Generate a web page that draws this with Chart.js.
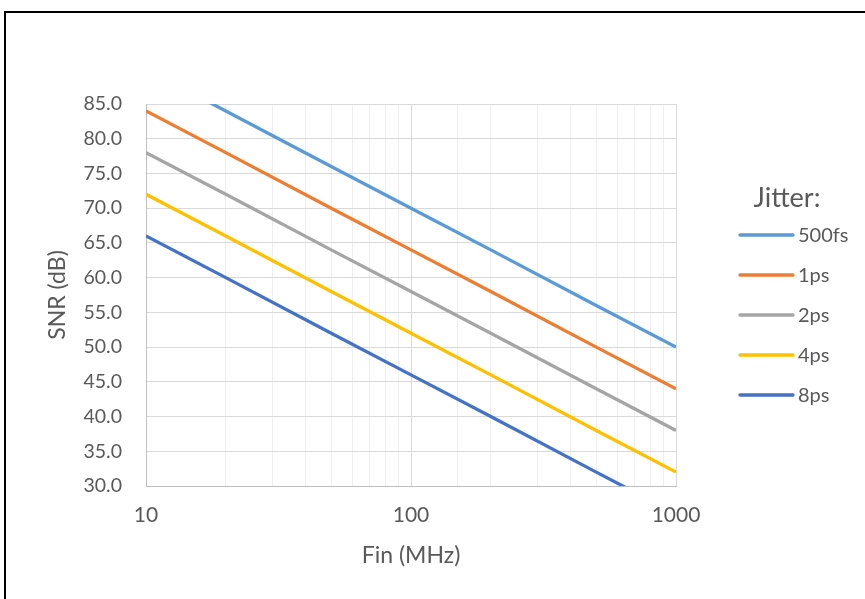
<!DOCTYPE html>
<html>
<head>
<meta charset="utf-8">
<script src="https://cdn.jsdelivr.net/npm/chart.js@4.4.1/dist/chart.umd.min.js"></script>
<style>
  html, body { margin: 0; padding: 0; background: #fff; overflow: hidden; }
  #wrap { position: relative; width: 865px; height: 599px; }
  #frame { position: absolute; left: 4px; top: 11px; width: 1000px; height: 1000px;
           border-left: 2px solid #000; border-top: 2px solid #000; box-sizing: border-box; pointer-events: none; }
  canvas { position: absolute; left: 0; top: 0; }
</style>
</head>
<body>
<div id="wrap">
  <canvas id="c" width="865" height="599"></canvas>
  <div id="frame"></div>
</div>
<script>
// ---- data ----
const freqMHz   = [10, 20, 50, 100, 200, 500, 1000];
const snr500fs  = [90.0, 84.0, 76.0, 70.0, 64.0, 56.0, 50.0];
const snr1ps    = [84.0, 78.0, 70.0, 64.0, 58.0, 50.0, 44.0];
const snr2ps    = [78.0, 72.0, 64.0, 58.0, 52.0, 44.0, 38.0];
const snr4ps    = [72.0, 66.0, 58.0, 52.0, 46.0, 38.0, 32.0];
const snr8ps    = [66.0, 60.0, 52.0, 46.0, 40.0, 32.0, 26.0];
const seriesNames = ['500fs', '1ps', '2ps', '4ps', '8ps'];
const xTickLabels = [10, 100, 1000];
const yMin = 30, yMax = 85, yStep = 5;
const legendTitle = 'Jitter:';
const xTitle = 'Fin (MHz)';
const yTitle = 'SNR (dB)';

const colors = ['#5B9BD5', '#ED7D31', '#A5A5A5', '#FFC000', '#4472C4'];
const allSeries = [snr500fs, snr1ps, snr2ps, snr4ps, snr8ps];
const FONT = 'Lato, "Open Sans", sans-serif';
const TXT = '#595959';

const datasets = allSeries.map((vals, i) => ({
  label: seriesNames[i],
  data: freqMHz.map((f, j) => ({ x: f, y: vals[j] })),
  borderColor: colors[i],
  backgroundColor: colors[i],
  borderWidth: 3.3,
  pointRadius: 0,
  pointHoverRadius: 0,
  tension: 0,
  fill: false
}));

const isPow10 = v => Math.abs(Math.log10(v) - Math.round(Math.log10(v))) < 1e-9;

const customLegend = {
  id: 'customLegend',
  afterDraw(chart) {
    const ctx = chart.ctx;
    const ca = chart.chartArea;
    const x0 = ca.right + 64;
    const lineLen = 53;
    const gap = 5;
    const step = 40;
    const midY = (ca.top + ca.bottom) / 2;
    const firstY = midY - 60;
    ctx.save();
    ctx.fillStyle = TXT;
    ctx.textBaseline = 'middle';
    ctx.textAlign = 'center';
    ctx.font = '27px ' + FONT;
    ctx.fillText(legendTitle, x0 + 47, firstY - 37);
    ctx.font = '20px ' + FONT;
    ctx.textAlign = 'left';
    chart.data.datasets.forEach((ds, i) => {
      const y = firstY + i * step;
      ctx.strokeStyle = ds.borderColor;
      ctx.lineWidth = 3.3;
      ctx.lineCap = 'round';
      ctx.beginPath();
      ctx.moveTo(x0, y);
      ctx.lineTo(x0 + lineLen, y);
      ctx.stroke();
      ctx.fillStyle = TXT;
      ctx.fillText(ds.label, x0 + lineLen + gap, y + 1);
    });
    ctx.restore();
  }
};

const whiteBg = {
  id: 'whiteBg',
  beforeDraw(chart) {
    const ctx = chart.ctx;
    ctx.save();
    ctx.fillStyle = '#fff';
    ctx.fillRect(0, 0, chart.width, chart.height);
    ctx.restore();
  }
};

new Chart(document.getElementById('c'), {
  type: 'line',
  data: { datasets },
  plugins: [whiteBg, customLegend],
  options: {
    responsive: false,
    animation: false,
    layout: { padding: { left: 0, top: 104, right: 189, bottom: 0 } },
    plugins: { legend: { display: false }, tooltip: { enabled: false } },
    scales: {
      x: {
        type: 'logarithmic',
        min: 10,
        max: 1000,
        afterFit(scale) { scale.height = 599 - 486; },
        afterBuildTicks(scale) {
          scale.ticks = scale.ticks.filter(t => t.value >= 10 && t.value <= 1000);
        },
        ticks: {
          autoSkip: false,
          maxRotation: 0,
          padding: 17,
          color: TXT,
          font: { family: FONT, size: 21 },
          callback: (v) => (isPow10(v) && xTickLabels.includes(Math.round(v))) ? String(Math.round(v)) : ''
        },
        grid: {
          drawTicks: false,
          color: (c) => (c.tick && isPow10(c.tick.value)) ? '#d9d9d9' : '#efefef',
          lineWidth: 1
        },
        border: { display: true, color: '#bfbfbf', width: 1 },
        title: {
          display: true, text: xTitle, color: TXT,
          font: { family: FONT, size: 23 },
          padding: { top: 0, bottom: 30 }
        }
      },
      y: {
        type: 'linear',
        min: yMin,
        max: yMax,
        afterFit(scale) { scale.width = 146; },
        ticks: {
          stepSize: yStep,
          padding: 24,
          color: TXT,
          font: { family: FONT, size: 19.5 },
          callback: (v) => Number(v).toFixed(1)
        },
        grid: { drawTicks: false, color: '#d9d9d9', lineWidth: 1 },
        border: { display: true, color: '#bfbfbf', width: 1 },
        title: {
          display: true, text: yTitle, color: TXT,
          font: { family: FONT, size: 23 },
          padding: { top: 44, bottom: 0 }
        }
      }
    }
  }
});
</script>
</body>
</html>
